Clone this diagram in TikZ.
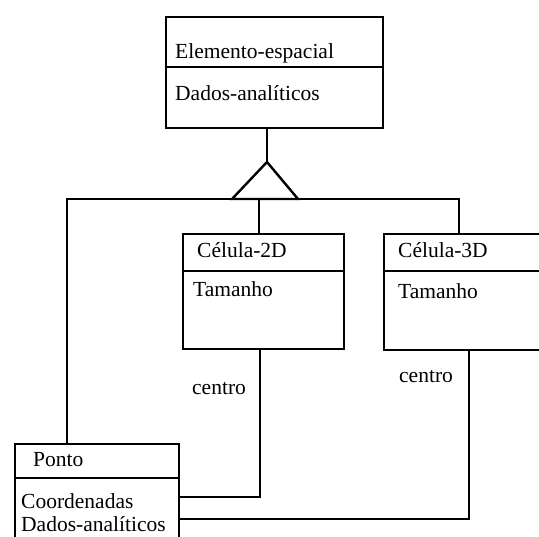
\documentclass[tikz,border=0pt]{standalone}
\usepackage{fontspec}
\setmainfont{Liberation Serif}
\begin{document}
\begin{tikzpicture}[x=1pt,y=-1pt,
  cls/.style={draw, line width=2.4pt, rectangle, inner sep=0pt, anchor=north west},
  lbl/.style={anchor=base west, inner sep=0pt, font=\fontsize{21.5}{24}\selectfont},
  conn/.style={line width=2.4pt, line join=miter}]
\useasboundingbox (0,0) rectangle (539,537);
\clip (0,0) rectangle (539,537);
\fill[white] (0,0) rectangle (539,537);
% class boxes
\node[cls, minimum width=217pt, minimum height=111pt] (elem) at (165,16) {};
\node[cls, minimum width=161pt, minimum height=115pt] (c2d) at (182,233) {};
\node[cls, minimum width=180pt, minimum height=116pt] (c3d) at (383,233) {};
\node[cls, minimum width=164pt, minimum height=120pt] (ponto) at (14,443) {};
% compartment dividers
\draw[conn] (elem.west |- 0,67) -- (elem.east |- 0,67);
\draw[conn] (c2d.west |- 0,271) -- (c2d.east |- 0,271);
\draw[conn] (c3d.west |- 0,271) -- (c3d.east |- 0,271);
\draw[conn] (ponto.west |- 0,478) -- (ponto.east |- 0,478);
% texts
\node[lbl] (t1) at (175,59) {Elemento-espacial};
\node[lbl] (t2) at (175,101) {Dados-analíticos};
\node[lbl] (t3) at (197,258) {Célula-2D};
\node[lbl] (t4) at (193,297) {Tamanho};
\node[lbl] (t5) at (398,258) {Célula-3D};
\node[lbl] (t6) at (398,299) {Tamanho};
\node[lbl] (t7) at (33,467) {Ponto};
\node[lbl] (t8) at (21,509) {Coordenadas};
\node[lbl] (t9) at (21,532) {Dados-analíticos};
\node[lbl] (cen2) at (192,395) {centro};
\node[lbl] (cen3) at (399,383) {centro};
% generalization
\coordinate (apex) at (267,162);
\coordinate (triL) at (232,199);
\coordinate (triR) at (298,199);
\coordinate (busL) at (67,199);
\coordinate (busR) at (459,199);
\coordinate (j2) at (259,199);
\draw[conn] (apex |- elem.south) -- (apex);
\draw[conn] (apex) -- (triL) -- (triR) -- cycle;
\draw[conn] (ponto.north -| busL) -- (busL) -- (busR) -- (busR |- c3d.north);
\draw[conn] (j2) -- (j2 |- c2d.north);
% associations
\coordinate (k2) at (260,497);
\coordinate (k3) at (469,519);
\draw[conn] (k2 |- c2d.south) -- (k2) -- (k2 -| ponto.east);
\draw[conn] (k3 |- c3d.south) -- (k3) -- (k3 -| ponto.east);
\end{tikzpicture}
\end{document}
